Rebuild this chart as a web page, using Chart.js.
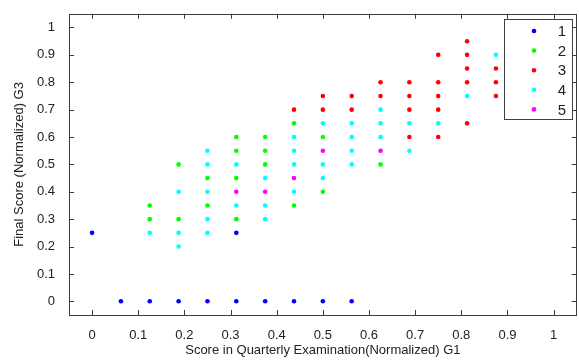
<!DOCTYPE html>
<html>
<head>
<meta charset="utf-8">
<script src="https://cdn.jsdelivr.net/npm/chart.js@4.4.0/dist/chart.umd.min.js"></script>
<style>
  html, body { margin: 0; padding: 0; background: #fff; }
  #wrap { width: 579px; height: 360px; }
</style>
</head>
<body>
<div id="wrap"><canvas id="grafica"></canvas></div>
<script>
// datos: G1 (x) y G3 (y) por clase
var clase1_g1 = [0, 0.0625, 0.125, 0.1875, 0.25, 0.3125, 0.3125, 0.375, 0.4375, 0.5, 0.5625];
var clase1_g3 = [0.25, 0, 0, 0, 0, 0.25, 0, 0, 0, 0, 0];

var clase2_g1 = [0.125, 0.125, 0.1875, 0.1875, 0.25, 0.25, 0.3125, 0.3125, 0.3125, 0.3125, 0.375, 0.375, 0.375, 0.4375, 0.4375, 0.5, 0.5, 0.625];
var clase2_g3 = [0.35, 0.3, 0.5, 0.3, 0.45, 0.35, 0.6, 0.55, 0.45, 0.3, 0.6, 0.55, 0.5, 0.65, 0.35, 0.6, 0.4, 0.5];

var clase3_g1 = [0.4375, 0.5, 0.5, 0.5625, 0.5625, 0.625, 0.625, 0.6875, 0.6875, 0.6875, 0.6875, 0.75, 0.75, 0.75, 0.75, 0.75, 0.8125, 0.8125, 0.8125, 0.8125, 0.8125, 0.875, 0.875, 0.875];
var clase3_g3 = [0.7, 0.75, 0.7, 0.75, 0.7, 0.8, 0.75, 0.8, 0.75, 0.7, 0.6, 0.9, 0.8, 0.75, 0.7, 0.6, 0.95, 0.9, 0.85, 0.8, 0.65, 0.85, 0.8, 0.75];

var clase4_g1 = [0.125, 0.1875, 0.1875, 0.1875, 0.25, 0.25, 0.25, 0.25, 0.25, 0.3125, 0.3125, 0.375, 0.375, 0.375, 0.4375, 0.4375, 0.4375, 0.4375, 0.5, 0.5, 0.5, 0.5625, 0.5625, 0.5625, 0.5625, 0.625, 0.625, 0.625, 0.6875, 0.6875, 0.75, 0.8125, 0.875];
var clase4_g3 = [0.25, 0.4, 0.25, 0.2, 0.55, 0.5, 0.4, 0.3, 0.25, 0.5, 0.35, 0.45, 0.35, 0.3, 0.6, 0.55, 0.5, 0.4, 0.65, 0.5, 0.45, 0.65, 0.6, 0.55, 0.5, 0.7, 0.65, 0.6, 0.65, 0.55, 0.65, 0.75, 0.9];

var clase5_g1 = [0.3125, 0.375, 0.4375, 0.5, 0.625];
var clase5_g3 = [0.4, 0.4, 0.45, 0.55, 0.55];

var etiquetas = ['1', '2', '3', '4', '5'];
var colores = ['#0000ff', '#00ff00', '#ff0000', '#00ffff', '#ff00ff'];

var ticksX = [0, 0.1, 0.2, 0.3, 0.4, 0.5, 0.6, 0.7, 0.8, 0.9, 1];
var ticksY = [0, 0.1, 0.2, 0.3, 0.4, 0.5, 0.6, 0.7, 0.8, 0.9, 1];

function puntos(xs, ys) {
    return xs.map(function (x, i) { return { x: x, y: ys[i] }; });
}

var series = [
    puntos(clase1_g1, clase1_g3),
    puntos(clase2_g1, clase2_g3),
    puntos(clase3_g1, clase3_g3),
    puntos(clase4_g1, clase4_g3),
    puntos(clase5_g1, clase5_g3)
];

var fuente = "'Liberation Sans', Arial, sans-serif";

// caja del eje con marcas hacia dentro (estilo MATLAB) y leyenda
var cajaMatlab = {
    id: 'cajaMatlab',
    afterDraw: function (chart) {
        var ctx = chart.ctx;
        var a = chart.chartArea;
        var sx = chart.scales.x, sy = chart.scales.y;
        var largo = 5;
        ctx.save();
        ctx.strokeStyle = '#3c3c3c';
        ctx.lineWidth = 1;
        ctx.beginPath();
        ticksX.forEach(function (v) {
            var px = Math.round(sx.getPixelForValue(v)) + 0.5;
            ctx.moveTo(px, a.bottom); ctx.lineTo(px, a.bottom - largo);
            ctx.moveTo(px, a.top); ctx.lineTo(px, a.top + largo);
        });
        ticksY.forEach(function (v) {
            var py = Math.round(sy.getPixelForValue(v)) + 0.5;
            ctx.moveTo(a.left, py); ctx.lineTo(a.left + largo, py);
            ctx.moveTo(a.right, py); ctx.lineTo(a.right - largo, py);
        });
        ctx.stroke();
        ctx.strokeRect(Math.round(a.left) + 0.5, Math.round(a.top) + 0.5,
            Math.round(a.right - a.left) - 1, Math.round(a.bottom - a.top));

        // leyenda
        var lx = 504.5, ly = 19.5, lw = 68, lh = 100;
        ctx.fillStyle = '#ffffff';
        ctx.fillRect(lx, ly, lw, lh);
        ctx.strokeStyle = '#404040';
        ctx.strokeRect(lx, ly, lw, lh);
        ctx.font = '15px ' + fuente;
        ctx.textAlign = 'center';
        ctx.textBaseline = 'middle';
        chart.data.datasets.forEach(function (ds, i) {
            var yy = 31 + i * 19.6;
            ctx.fillStyle = ds.backgroundColor;
            ctx.beginPath();
            ctx.arc(534, yy, 2.3, 0, Math.PI * 2);
            ctx.fill();
            ctx.fillStyle = '#222';
            ctx.fillText(ds.label, 562, yy + 1);
        });
        ctx.restore();
    }
};

document.addEventListener('DOMContentLoaded', function () {
    var ctx = document.getElementById('grafica').getContext('2d');

    var myChart = new Chart(ctx, {
        type: 'scatter',
        data: {
            datasets: series.map(function (d, i) {
                return {
                    label: etiquetas[i],
                    data: d,
                    backgroundColor: colores[i],
                    borderWidth: 0,
                    pointRadius: 2.3,
                    pointHoverRadius: 2.3
                };
            })
        },
        options: {
            responsive: true,
            maintainAspectRatio: false,
            animation: false,
            layout: { padding: { top: 12, right: 1, left: 0, bottom: 0 } },
            plugins: {
                legend: { display: false },
                tooltip: { enabled: false }
            },
            scales: {
                x: {
                    type: 'linear',
                    min: -0.05,
                    max: 1.05,
                    afterBuildTicks: function (s) { s.ticks = ticksX.map(function (v) { return { value: v }; }); },
                    afterFit: function (s) { s.height = 45; },
                    grid: { display: false },
                    border: { display: false },
                    ticks: {
                        color: '#222',
                        padding: 5,
                        maxRotation: 0,
                        font: { family: fuente, size: 13 },
                        callback: function (v) { return String(Math.round(v * 10) / 10); }
                    },
                    title: {
                        display: true,
                        text: 'Score in Quarterly Examination(Normalized) G1',
                        color: '#222',
                        font: { family: fuente, size: 13 },
                        padding: { top: 0, bottom: 2 }
                    }
                },
                y: {
                    type: 'linear',
                    min: -0.05,
                    max: 1.05,
                    afterBuildTicks: function (s) { s.ticks = ticksY.map(function (v) { return { value: v }; }); },
                    afterFit: function (s) { s.width = 69; },
                    grid: { display: false },
                    border: { display: false },
                    ticks: {
                        color: '#222',
                        padding: 6,
                        font: { family: fuente, size: 13 },
                        callback: function (v) { return String(Math.round(v * 10) / 10); }
                    },
                    title: {
                        display: true,
                        text: 'Final Score (Normalized) G3',
                        color: '#222',
                        font: { family: fuente, size: 13 },
                        padding: { top: 12, bottom: 0 }
                    }
                }
            }
        },
        plugins: [cajaMatlab]
    });
});
</script>
</body>
</html>
